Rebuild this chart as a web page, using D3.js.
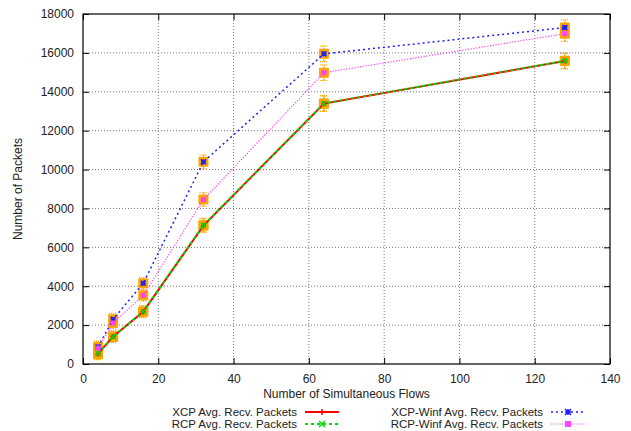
<!DOCTYPE html>
<html>
<head>
<meta charset="utf-8">
<script src="https://cdn.jsdelivr.net/npm/d3@7"></script>
<style>
  html, body { margin: 0; padding: 0; background: #fff; }
  svg { display: block; font-family: "Liberation Sans", Arial, sans-serif; }
</style>
</head>
<body>
<svg id="chart" width="631" height="431"></svg>
<script>
// Number of simultaneous flows
const flows = [4, 8, 16, 32, 64, 128];

// Average received packets per protocol
const xcpPackets     = [520, 1420, 2690, 7120, 13390, 15580];
const rcpPackets     = [540, 1400, 2700, 7140, 13400, 15590];
const xcpWinfPackets = [880, 2300, 4150, 10400, 15950, 17300];
const rcpWinfPackets = [820, 2110, 3530, 8460, 14980, 16990];

// Error bar half-width for every point
const errHalf = [300, 300, 300, 350, 400, 400];

const xTicks = [0, 20, 40, 60, 80, 100, 120, 140];
const yTicks = [0, 2000, 4000, 6000, 8000, 10000, 12000, 14000, 16000, 18000];

const seriesNames = [
  "XCP Avg. Recv. Packets",
  "RCP Avg. Recv. Packets",
  "XCP-Winf Avg. Recv. Packets",
  "RCP-Winf Avg. Recv. Packets"
];

const series = [
  { name: seriesNames[0], values: xcpPackets,     color: "#ff0000", dash: null,      width: 2,   marker: "plus" },
  { name: seriesNames[1], values: rcpPackets,     color: "#00dd00", dash: "3,3",     width: 2,   marker: "cross" },
  { name: seriesNames[2], values: xcpWinfPackets, color: "#2020ff", dash: "2,3",     width: 1.5, marker: "star" },
  { name: seriesNames[3], values: rcpWinfPackets, color: "#ff40ff", dash: "1.2,1.6", width: 1.2, marker: "square" }
];

const svg = d3.select("#chart");
const L = 83, R = 610, T = 14, B = 364;

const x = d3.scaleLinear().domain([0, 140]).range([L, R]);
const y = d3.scaleLinear().domain([0, 18000]).range([B, T]);

// Grid
const grid = svg.append("g");
grid.selectAll(".gx").data(xTicks.slice(1, -1)).join("line")
  .attr("x1", d => x(d)).attr("x2", d => x(d))
  .attr("y1", T).attr("y2", B)
  .attr("stroke", "#777").attr("stroke-width", 1).attr("stroke-dasharray", "1,2");
grid.selectAll(".gy").data(yTicks.slice(1, -1)).join("line")
  .attr("x1", L).attr("x2", R)
  .attr("y1", d => y(d)).attr("y2", d => y(d))
  .attr("stroke", "#777").attr("stroke-width", 1).attr("stroke-dasharray", "1,2");

// Axes with inward ticks, mirrored on top and right
const axisStyle = g => {
  g.select(".domain").remove();
  g.selectAll(".tick line").attr("stroke", "#000");
  g.selectAll(".tick text").attr("font-size", 12).attr("fill", "#222")
    .attr("font-family", "Liberation Sans, Arial, sans-serif");
};
svg.append("g").attr("transform", `translate(0,${B})`)
  .call(d3.axisBottom(x).tickValues(xTicks).tickSize(-6).tickPadding(10).tickFormat(d3.format("d")))
  .call(axisStyle);
svg.append("g").attr("transform", `translate(0,${T})`)
  .call(d3.axisTop(x).tickValues(xTicks).tickSize(-6).tickFormat(""))
  .call(axisStyle);
svg.append("g").attr("transform", `translate(${L},0)`)
  .call(d3.axisLeft(y).tickValues(yTicks).tickSize(-6).tickPadding(9).tickFormat(d3.format("d")))
  .call(axisStyle);
svg.append("g").attr("transform", `translate(${R},0)`)
  .call(d3.axisRight(y).tickValues(yTicks).tickSize(-6).tickFormat(""))
  .call(axisStyle);

// Frame
svg.append("rect").attr("x", L).attr("y", T).attr("width", R - L).attr("height", B - T)
  .attr("fill", "none").attr("stroke", "#000").attr("stroke-width", 1.2);

// Error bars and orange boxes at each point
const eb = svg.append("g");
series.forEach(s => {
  s.values.forEach((v, i) => {
    const cx = x(flows[i]);
    const lo = y(v - errHalf[i]), hi = y(v + errHalf[i]);
    eb.append("line").attr("x1", cx).attr("x2", cx).attr("y1", lo).attr("y2", hi)
      .attr("stroke", "#ffa500").attr("stroke-width", 1.5).attr("stroke-dasharray", "2,1");
    [lo, hi].forEach(yy => eb.append("line")
      .attr("x1", cx - 4).attr("x2", cx + 4).attr("y1", yy).attr("y2", yy)
      .attr("stroke", "#ffa500").attr("stroke-width", 1.2).attr("stroke-dasharray", "1,1"));
    eb.append("rect").attr("x", cx - 5).attr("y", y(v) - 5).attr("width", 10).attr("height", 10)
      .attr("fill", "#ffa500").attr("rx", 1);
  });
});

// Lines, later series drawn over earlier ones
const line = d3.line().x((d, i) => x(flows[i])).y(d => y(d));
series.forEach(s => {
  svg.append("path").datum(s.values)
    .attr("d", line)
    .attr("fill", "none")
    .attr("stroke", s.color)
    .attr("stroke-width", s.width)
    .attr("stroke-dasharray", s.dash);
});

// Point markers
function drawMarker(g, type, cx, cy, color, r) {
  if (type === "plus") {
    g.append("path").attr("d", `M${cx - r},${cy}H${cx + r}M${cx},${cy - r}V${cy + r}`)
      .attr("stroke", color).attr("stroke-width", 1.5);
  } else if (type === "cross") {
    g.append("path").attr("d", `M${cx - r},${cy - r}L${cx + r},${cy + r}M${cx - r},${cy + r}L${cx + r},${cy - r}`)
      .attr("stroke", color).attr("stroke-width", 1.5);
  } else if (type === "star") {
    g.append("path").attr("d",
      `M${cx - r},${cy}H${cx + r}M${cx},${cy - r}V${cy + r}M${cx - r},${cy - r}L${cx + r},${cy + r}M${cx - r},${cy + r}L${cx + r},${cy - r}`)
      .attr("stroke", color).attr("stroke-width", 1.5);
  } else {
    g.append("rect").attr("x", cx - r).attr("y", cy - r).attr("width", 2 * r).attr("height", 2 * r)
      .attr("fill", color);
  }
}
const mk = svg.append("g");
series.forEach(s => {
  s.values.forEach((v, i) => drawMarker(mk, s.marker, x(flows[i]), y(v), s.color, 2.5));
});

// Axis titles
svg.append("text").attr("x", (L + R) / 2).attr("y", 398)
  .attr("text-anchor", "middle").attr("font-size", 12).attr("fill", "#222")
  .text("Number of Simultaneous Flows");
svg.append("text").attr("transform", `translate(22,${(T + B) / 2}) rotate(-90)`)
  .attr("text-anchor", "middle").attr("font-size", 12).attr("fill", "#222")
  .text("Number of Packets");

// Legend, two columns
const legendPos = [
  { tx: 297, ly: 412 }, { tx: 297, ly: 424 },
  { tx: 543, ly: 412 }, { tx: 543, ly: 424 }
];
series.forEach((s, i) => {
  const p = legendPos[i];
  svg.append("text").attr("x", p.tx).attr("y", p.ly + 4)
    .attr("text-anchor", "end").attr("font-size", 11.5).attr("fill", "#222")
    .text(s.name);
  const x0 = p.tx + 8, x1 = p.tx + 42;
  svg.append("line").attr("x1", x0).attr("x2", x1).attr("y1", p.ly).attr("y2", p.ly)
    .attr("stroke", s.color).attr("stroke-width", s.width).attr("stroke-dasharray", s.dash);
  drawMarker(svg, s.marker, (x0 + x1) / 2, p.ly, s.color, 3);
});
</script>
</body>
</html>
